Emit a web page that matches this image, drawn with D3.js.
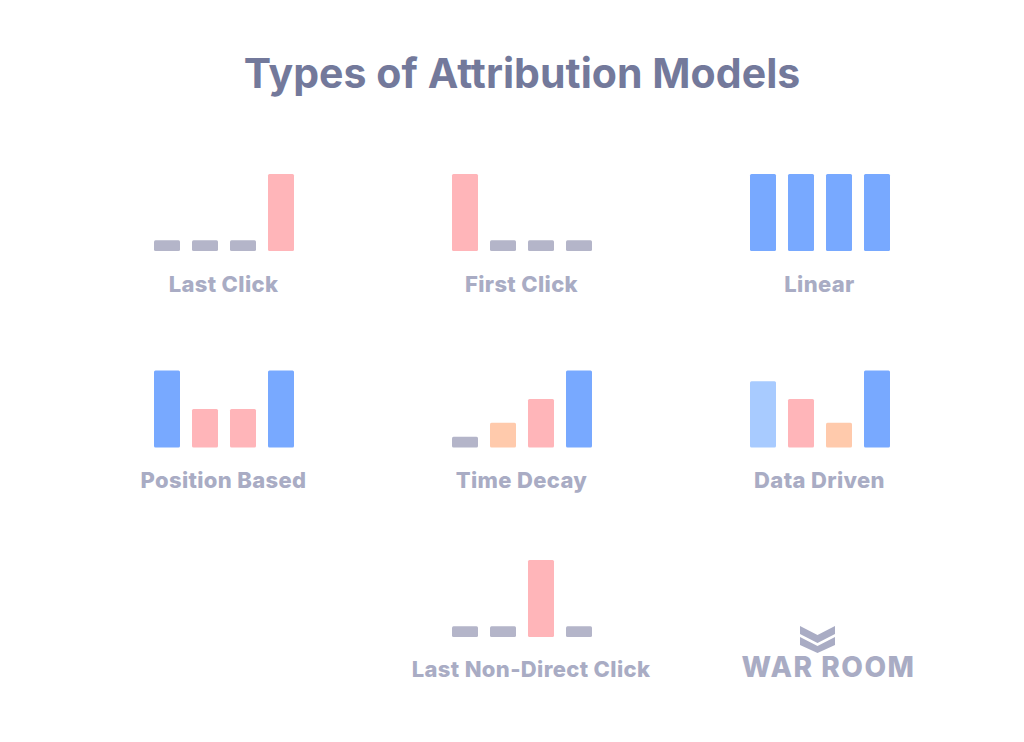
<!DOCTYPE html>
<html>
<head>
<meta charset="utf-8">
<script src="https://cdn.jsdelivr.net/npm/d3@7"></script>
<style>
    html, body { margin: 0; padding: 0; background: #fff; }
    text { font-family: Inter, "Open Sans", sans-serif; }
</style>
</head>
<body>
<div id="chart"></div>
<script>
// Chart values
var touchpoints = ['1', '2', '3', '4'];
var modelNames = ['Last Click', 'First Click', 'Linear', 'Position Based', 'Time Decay', 'Data Driven', 'Last Non-Direct Click'];
var lastClick = [14, 14, 14, 100];
var firstClick = [100, 14, 14, 14];
var linear = [100, 100, 100, 100];
var positionBased = [100, 50, 50, 100];
var timeDecay = [14, 32, 63, 100];
var dataDriven = [86, 63, 32, 100];
var lastNonDirect = [14, 14, 100, 14];
var modelValues = [lastClick, firstClick, linear, positionBased, timeDecay, dataDriven, lastNonDirect];

// Credit level of each bar, this is what picks the colour
var levels = ['none', 'low', 'mid', 'high', 'full'];
var lastClickLevels = ['none', 'none', 'none', 'mid'];
var firstClickLevels = ['mid', 'none', 'none', 'none'];
var linearLevels = ['full', 'full', 'full', 'full'];
var positionLevels = ['full', 'mid', 'mid', 'full'];
var decayLevels = ['none', 'low', 'mid', 'full'];
var drivenLevels = ['high', 'mid', 'low', 'full'];
var nonDirectLevels = ['none', 'none', 'mid', 'none'];
var modelLevels = [lastClickLevels, firstClickLevels, linearLevels, positionLevels, decayLevels, drivenLevels, nonDirectLevels];

var width = 1024, height = 742;
var panelWidth = 140, panelHeight = 77;
var panelLeft = [154, 452, 750, 154, 452, 750, 452];
var panelBase = [251, 251, 251, 447.5, 447.5, 447.5, 637];
// the last label sits off centre under its bars
var labelShift = [0, 0, 0, 0, 0, 0, 9.5];
var labelDrop = [40.5, 40.5, 40.5, 40.5, 40.5, 40.5, 39.5];

var svg = d3.select('#chart').append('svg')
    .attr('width', width)
    .attr('height', height)
    .style('display', 'block');

svg.append('text')
    .attr('x', 522)
    .attr('y', 88)
    .attr('text-anchor', 'middle')
    .attr('font-size', 41)
    .attr('font-weight', 700)
    .attr('letter-spacing', 0.05)
    .attr('fill', '#73799b')
    .text('Types of Attribution Models');

var x = d3.scaleBand().domain(touchpoints).range([0, panelWidth]).paddingInner(12 / 38);
var y = d3.scaleLinear().domain([0, 100]).range([panelHeight, 0]);
var colour = d3.scaleOrdinal()
    .domain(levels)
    .range(['#b4b5c9', '#ffcaac', '#ffb5b9', '#a8cbff', '#78a9ff']);

// One small bar chart for each model
modelNames.forEach(function (name, i) {
    var panel = svg.append('g')
        .attr('transform', `translate(${panelLeft[i]},${panelBase[i] - panelHeight})`);

    panel.selectAll('rect')
        .data(modelValues[i])
        .join('rect')
        .attr('x', function (d, j) { return x(touchpoints[j]); })
        .attr('y', function (d) { return y(d); })
        .attr('width', x.bandwidth())
        .attr('height', function (d) { return y(0) - y(d); })
        .attr('rx', 1.5)
        .attr('fill', function (d, j) { return colour(modelLevels[i][j]); });

    panel.append('text')
        .attr('x', panelWidth / 2 - 0.5 + labelShift[i])
        .attr('y', panelHeight + labelDrop[i])
        .attr('text-anchor', 'middle')
        .attr('font-size', 22)
        .attr('font-weight', 800)
        .attr('letter-spacing', 0.35)
        .attr('fill', '#a9acc4')
        .text(name);
});

// War Room logo
var logo = svg.append('g').attr('fill', '#a9acc4');
logo.append('path').attr('d', 'M800,626 L817.5,635 L835,626 L835,634 L817.5,643 L800,634 Z');
logo.append('path').attr('d', 'M800,637 L817.5,646 L835,637 L835,645 L817.5,653 L800,645 Z');
logo.append('text')
    .attr('x', 828.5)
    .attr('y', 677)
    .attr('text-anchor', 'middle')
    .attr('font-size', 28)
    .attr('font-weight', 800)
    .attr('letter-spacing', 1.5)
    .text('WAR ROOM');
</script>
</body>
</html>
